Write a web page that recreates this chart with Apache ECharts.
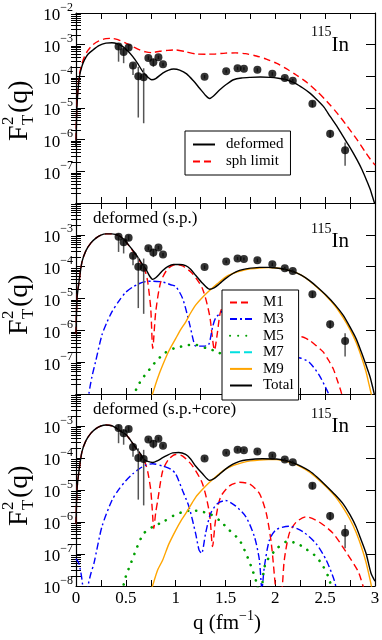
<!DOCTYPE html>
<html>
<head>
<meta charset="utf-8">
<script src="https://cdn.jsdelivr.net/npm/echarts@6/dist/echarts.min.js"></script>
<style>
html, body { margin: 0; padding: 0; background: #fff; }
#chart { width: 382px; height: 640px; }
</style>
</head>
<body>
<div id="chart"></div>
<script>
// experimental points (same in all three panels)
const expQ = [0.427, 0.478, 0.528, 0.572, 0.625, 0.679, 0.726, 0.776, 0.827, 0.873, 1.29, 1.507, 1.621, 1.685, 1.82, 1.97, 2.095, 2.175, 2.372, 2.55, 2.70]
const expF = [8.7e-4, 5.9e-4, 8.1e-4, 2.2e-4, 1.0e-4, 9.3e-5, 3.8e-4, 2.8e-4, 4.0e-4, 2.4e-4, 9.7e-5, 1.45e-4, 1.8e-4, 1.74e-4, 1.6e-4, 1.2e-4, 8.9e-5, 7.3e-5, 1.35e-5, 1.55e-6, 4.6e-7]
const expLow = [2.9e-4, 2.6e-4, 6.6e-4, 1.1e-4, 5.0e-6, 3.3e-6, 3.3e-4, 2.0e-4, 3.5e-4, 2.1e-4, 8.5e-5, 1.3e-4, 1.6e-4, 1.55e-4, 1.4e-4, 1.05e-4, 7.8e-5, 6.4e-5, 1.05e-5, 1.12e-6, 1.5e-7]
const expHigh = [1.1e-3, 7.9e-4, 9.8e-4, 2.6e-4, 2.0e-4, 1.8e-4, 4.3e-4, 3.6e-4, 4.5e-4, 2.7e-4, 1.1e-4, 1.6e-4, 2.0e-4, 1.95e-4, 1.8e-4, 1.35e-4, 1.0e-4, 8.2e-5, 1.66e-5, 2.0e-6, 8.1e-7]

// top panel
const deformedTop = [[0, 6.3e-7], [0.008, 8.7e-6], [0.02, 3.5e-5], [0.035, 1.0e-4], [0.06, 2.1e-4], [0.085, 3.3e-4], [0.12, 5.0e-4], [0.17, 6.8e-4], [0.23, 9.3e-4], [0.3, 1.12e-3], [0.36, 1.15e-3], [0.42, 1.05e-3], [0.47, 8.7e-4], [0.52, 6.3e-4], [0.57, 4.2e-4], [0.62, 2.5e-4], [0.67, 1.41e-4], [0.72, 9.5e-5], [0.76, 7.8e-5], [0.8, 8.5e-5], [0.87, 1.26e-4], [0.93, 1.58e-4], [0.98, 1.7e-4], [1.04, 1.58e-4], [1.11, 1.2e-4], [1.18, 7.1e-5], [1.24, 4.2e-5], [1.3, 2.5e-5], [1.34, 2.0e-5], [1.38, 2.4e-5], [1.44, 3.7e-5], [1.51, 5.6e-5], [1.58, 7.8e-5], [1.66, 8.9e-5], [1.75, 9.3e-5], [1.85, 9.5e-5], [1.95, 9.3e-5], [2.03, 8.7e-5], [2.11, 7.8e-5], [2.2, 6.0e-5], [2.28, 4.2e-5], [2.35, 2.9e-5], [2.42, 1.8e-5], [2.49, 1.05e-5], [2.55, 5.4e-6], [2.62, 2.6e-6], [2.68, 1.26e-6], [2.75, 5.6e-7], [2.82, 2.3e-7], [2.87, 1.12e-7], [2.92, 4.8e-8], [2.95, 2.8e-8], [2.98, 1.41e-8], [3.0, 8.9e-9]]
const sphTop = [[0, 1.0e-6], [0.008, 1.12e-5], [0.02, 4.5e-5], [0.035, 1.17e-4], [0.06, 2.5e-4], [0.085, 4.2e-4], [0.12, 6.6e-4], [0.17, 1.0e-3], [0.23, 1.32e-3], [0.3, 1.55e-3], [0.35, 1.58e-3], [0.42, 1.45e-3], [0.5, 1.12e-3], [0.57, 8.7e-4], [0.64, 6.8e-4], [0.7, 5.9e-4], [0.76, 5.6e-4], [0.84, 6.2e-4], [0.92, 6.6e-4], [1.0, 6.8e-4], [1.1, 6.0e-4], [1.2, 5.1e-4], [1.3, 5.0e-4], [1.4, 5.1e-4], [1.5, 5.4e-4], [1.6, 5.5e-4], [1.7, 5.2e-4], [1.81, 4.4e-4], [1.91, 3.5e-4], [2.01, 2.6e-4], [2.11, 1.74e-4], [2.21, 1.1e-4], [2.32, 6.3e-5], [2.42, 3.3e-5], [2.52, 1.58e-5], [2.62, 6.9e-6], [2.72, 2.7e-6], [2.82, 1.0e-6], [2.9, 4.2e-7], [2.95, 2.5e-7], [3.0, 1.58e-7]]

// middle panel, deformed (s.p.)
const m1Mid = [[0, 7.9e-7], [0.01, 1.0e-5], [0.03, 3.3e-5], [0.06, 1.41e-4], [0.1, 3.2e-4], [0.15, 5.6e-4], [0.2, 7.9e-4], [0.25, 9.8e-4], [0.3, 1.07e-3], [0.36, 1.07e-3], [0.43, 9.5e-4], [0.48, 7.2e-4], [0.53, 4.6e-4], [0.58, 2.8e-4], [0.63, 1.66e-4], [0.666, 1.1e-4], [0.7, 6.3e-5], [0.72, 3.3e-5], [0.75, 4.8e-6], [0.77, 2.7e-7], [0.8, 3.8e-6], [0.85, 3.3e-5], [0.92, 8.5e-5], [1.0, 1.17e-4], [1.07, 1.05e-4], [1.17, 6.0e-5], [1.27, 2.0e-5], [1.34, 3.0e-6], [1.39, 2.4e-7], [1.42, 8.9e-7], [1.45, 3.8e-6], [1.52, 1.0e-5], [1.62, 1.41e-5], [1.72, 1.12e-5], [1.82, 5.0e-6], [1.92, 1.0e-6], [1.98, 1.26e-7], [2.03, 1e-9], [2.08, 6.3e-8], [2.13, 3.2e-7], [2.2, 6.0e-7], [2.26, 6.3e-7], [2.34, 4.9e-7], [2.41, 3.3e-7], [2.48, 2.1e-7], [2.53, 1.2e-7], [2.58, 6.3e-8], [2.62, 2.8e-8], [2.66, 1.17e-8], [2.69, 5e-9]]
const m3Mid = [[0.12, 5e-9], [0.13, 1.05e-8], [0.16, 3.5e-8], [0.196, 1.02e-7], [0.26, 7.1e-7], [0.31, 1.78e-6], [0.36, 3.8e-6], [0.43, 8.3e-6], [0.5, 1.58e-5], [0.57, 2.3e-5], [0.63, 2.9e-5], [0.7, 3.4e-5], [0.77, 3.5e-5], [0.84, 3.4e-5], [0.9, 3.1e-5], [0.95, 2.7e-5], [1.0, 2.4e-5], [1.07, 1.0e-5], [1.135, 1.82e-6], [1.18, 4.5e-7], [1.2, 3.2e-7], [1.27, 3.2e-7], [1.33, 3.5e-7], [1.37, 1.26e-6], [1.4, 2.4e-6], [1.47, 4.0e-6], [1.55, 5.0e-6], [1.65, 3.5e-6], [1.75, 1.26e-6], [1.83, 2.0e-7], [1.88, 3.2e-9], [1.93, 5.0e-8], [2.02, 1.12e-7], [2.12, 1.5e-7], [2.25, 1.35e-7], [2.34, 1.0e-7], [2.44, 3.9e-8], [2.51, 1.48e-8], [2.55, 7.9e-9]]
const m5Mid = [[0.57, 7.9e-9], [0.62, 1.78e-8], [0.67, 3.2e-8], [0.72, 5.0e-8], [0.77, 8.1e-8], [0.83, 1.29e-7], [0.88, 1.86e-7], [0.98, 2.7e-7], [1.04, 3.0e-7], [1.1, 3.4e-7], [1.2, 3.5e-7], [1.3, 2.8e-7], [1.42, 2.1e-7], [1.5, 1.41e-7], [1.6, 5.0e-8], [1.68, 6.3e-9]]
const m7Mid = []
const m9Mid = [[0.75, 6.3e-9], [0.77, 1.05e-8], [0.82, 3.2e-8], [0.87, 8.1e-8], [0.93, 2.2e-7], [1.0, 5.5e-7], [1.05, 1.05e-6], [1.1, 1.82e-6], [1.15, 3.5e-6], [1.2, 6.2e-6], [1.27, 1.1e-5], [1.34, 1.78e-5], [1.42, 2.95e-5], [1.5, 4.7e-5], [1.58, 6.2e-5], [1.67, 7.6e-5], [1.75, 8.5e-5], [1.84, 9.1e-5], [1.93, 9.3e-5], [2.01, 9.1e-5], [2.09, 8.3e-5], [2.175, 7.1e-5], [2.26, 5.4e-5], [2.34, 3.6e-5], [2.42, 2.2e-5], [2.51, 1.2e-5], [2.6, 5.8e-6], [2.68, 2.5e-6], [2.75, 1.05e-6], [2.81, 4.2e-7], [2.86, 1.58e-7], [2.91, 5.0e-8], [2.94, 2.0e-8], [2.97, 7.9e-9]]
const totalMid = [[0, 7.9e-7], [0.01, 1.0e-5], [0.03, 3.3e-5], [0.06, 1.41e-4], [0.1, 3.2e-4], [0.15, 5.6e-4], [0.2, 7.9e-4], [0.25, 9.8e-4], [0.3, 1.07e-3], [0.36, 1.07e-3], [0.43, 9.5e-4], [0.48, 7.2e-4], [0.53, 4.7e-4], [0.58, 3.0e-4], [0.63, 1.78e-4], [0.67, 1.15e-4], [0.7, 8.5e-5], [0.74, 5.0e-5], [0.77, 4.0e-5], [0.8, 4.5e-5], [0.84, 6.0e-5], [0.87, 7.6e-5], [0.92, 1.0e-4], [0.98, 1.17e-4], [1.04, 1.17e-4], [1.1, 1.07e-4], [1.15, 8.3e-5], [1.2, 5.4e-5], [1.27, 3.0e-5], [1.34, 1.95e-5], [1.39, 2.2e-5], [1.44, 2.9e-5], [1.5, 4.2e-5], [1.57, 6.0e-5], [1.64, 7.6e-5], [1.705, 8.5e-5], [1.84, 9.5e-5], [1.93, 9.5e-5], [2.01, 9.1e-5], [2.09, 8.3e-5], [2.175, 7.1e-5], [2.26, 5.4e-5], [2.34, 3.7e-5], [2.42, 2.3e-5], [2.51, 1.26e-5], [2.6, 6.3e-6], [2.68, 3.0e-6], [2.75, 1.26e-6], [2.81, 5.5e-7], [2.86, 2.2e-7], [2.91, 8.1e-8], [2.95, 3.5e-8], [2.98, 1.48e-8], [3.0, 7.9e-9]]

// bottom panel, deformed (s.p.+core)
const m1Bot = [[0, 8.9e-7], [0.01, 1.0e-5], [0.03, 4.0e-5], [0.06, 1.58e-4], [0.1, 3.5e-4], [0.15, 6.0e-4], [0.2, 8.3e-4], [0.25, 1.0e-3], [0.3, 1.07e-3], [0.36, 1.02e-3], [0.4, 8.7e-4], [0.45, 6.8e-4], [0.5, 5.4e-4], [0.55, 3.5e-4], [0.6, 2.0e-4], [0.65, 1.26e-4], [0.666, 1.02e-4], [0.7, 6.3e-5], [0.725, 3.1e-5], [0.75, 1.0e-5], [0.765, 2.5e-6], [0.78, 6.2e-7], [0.8, 2.0e-6], [0.82, 4.7e-6], [0.87, 4.0e-5], [0.93, 9.1e-5], [1.0, 1.29e-4], [1.07, 1.15e-4], [1.17, 5.6e-5], [1.27, 1.55e-5], [1.34, 1.82e-6], [1.37, 1.7e-7], [1.4, 1.12e-6], [1.45, 6.0e-6], [1.54, 1.35e-5], [1.64, 1.74e-5], [1.74, 1.55e-5], [1.84, 7.8e-6], [1.91, 1.82e-6], [1.96, 2.1e-7], [2.0, 1.0e-8], [2.03, 1e-9], [2.07, 1.0e-8], [2.09, 6.5e-8], [2.14, 4.4e-7], [2.21, 1.0e-6], [2.31, 1.45e-6], [2.44, 1.0e-6], [2.58, 4.4e-7], [2.71, 1.15e-7], [2.83, 2.9e-8], [2.88, 1.0e-8], [2.92, 4e-9]]
const m3Bot = [[0, 7.1e-8], [0.03, 5.0e-8], [0.06, 1.58e-8], [0.09, 2.5e-9], [0.12, 1.0e-8], [0.15, 2.5e-8], [0.18, 5.1e-8], [0.26, 7.1e-7], [0.36, 4.7e-6], [0.43, 1.05e-5], [0.5, 1.95e-5], [0.57, 3.2e-5], [0.63, 4.5e-5], [0.7, 6.0e-5], [0.77, 6.6e-5], [0.87, 5.6e-5], [0.95, 4.5e-5], [1.0, 3.2e-5], [1.07, 9.5e-6], [1.135, 2.9e-6], [1.2, 4.4e-7], [1.235, 1.32e-7], [1.26, 1.05e-7], [1.3, 4.4e-7], [1.35, 1.82e-6], [1.42, 3.8e-6], [1.5, 4.7e-6], [1.6, 3.2e-6], [1.705, 1.45e-6], [1.79, 3.5e-7], [1.84, 6.5e-8], [1.865, 7.9e-9], [1.89, 4.0e-8], [1.94, 2.7e-7], [2.01, 5.8e-7], [2.14, 7.4e-7], [2.28, 4.9e-7], [2.41, 2.1e-7], [2.51, 6.5e-8], [2.59, 1.55e-8], [2.62, 6.3e-9]]
const m5Bot = [[0.46, 6.3e-9], [0.5, 2.0e-8], [0.55, 5.1e-8], [0.615, 1.7e-7], [0.68, 4.4e-7], [0.77, 7.1e-7], [0.87, 1.0e-6], [0.98, 1.58e-6], [1.08, 2.1e-6], [1.17, 2.3e-6], [1.26, 2.1e-6], [1.34, 1.82e-6], [1.44, 1.12e-6], [1.54, 5.5e-7], [1.64, 2.7e-7], [1.705, 1.05e-7], [1.77, 3.2e-8], [1.82, 1.0e-8], [1.85, 2.5e-9], [1.88, 2.5e-8], [1.91, 5.8e-8], [2.01, 1.41e-7], [2.11, 2.4e-7], [2.21, 2.2e-7], [2.31, 1.41e-7], [2.41, 8.3e-8], [2.48, 4.1e-8], [2.53, 2.0e-8], [2.57, 7.9e-9]]
const m7Bot = []
const m9Bot = [[0.75, 6.3e-9], [0.77, 1.05e-8], [0.82, 3.2e-8], [0.87, 6.5e-8], [0.93, 2.0e-7], [1.0, 5.5e-7], [1.05, 1.05e-6], [1.1, 1.82e-6], [1.15, 3.3e-6], [1.2, 5.9e-6], [1.27, 1.05e-5], [1.34, 1.74e-5], [1.42, 2.9e-5], [1.5, 4.5e-5], [1.58, 5.9e-5], [1.67, 7.2e-5], [1.75, 8.1e-5], [1.84, 8.7e-5], [1.93, 8.9e-5], [2.01, 8.9e-5], [2.09, 8.1e-5], [2.175, 6.9e-5], [2.26, 5.2e-5], [2.34, 3.7e-5], [2.42, 2.3e-5], [2.51, 1.26e-5], [2.6, 6.3e-6], [2.68, 2.8e-6], [2.75, 1.2e-6], [2.81, 4.8e-7], [2.86, 1.8e-7], [2.91, 5.5e-8], [2.95, 1.6e-8], [2.97, 7.9e-9]]
const totalBot = [[0, 8.9e-7], [0.01, 1.0e-5], [0.03, 4.0e-5], [0.06, 1.58e-4], [0.1, 3.5e-4], [0.15, 6.0e-4], [0.2, 8.3e-4], [0.25, 1.0e-3], [0.3, 1.07e-3], [0.36, 1.02e-3], [0.4, 8.7e-4], [0.45, 6.8e-4], [0.5, 5.4e-4], [0.55, 3.5e-4], [0.6, 2.1e-4], [0.65, 1.32e-4], [0.68, 9.1e-5], [0.72, 7.8e-5], [0.77, 7.2e-5], [0.82, 8.3e-5], [0.87, 1.02e-4], [0.97, 1.45e-4], [1.03, 1.48e-4], [1.1, 1.29e-4], [1.15, 9.3e-5], [1.2, 5.6e-5], [1.27, 3.2e-5], [1.34, 2.0e-5], [1.39, 2.3e-5], [1.44, 3.1e-5], [1.5, 4.5e-5], [1.57, 6.3e-5], [1.64, 7.8e-5], [1.705, 8.7e-5], [1.87, 9.5e-5], [2.01, 9.3e-5], [2.09, 8.5e-5], [2.175, 7.2e-5], [2.26, 5.5e-5], [2.34, 4.0e-5], [2.42, 2.5e-5], [2.51, 1.35e-5], [2.6, 7.1e-6], [2.68, 3.7e-6], [2.75, 1.66e-6], [2.81, 7.1e-7], [2.86, 2.8e-7], [2.91, 1.05e-7], [2.96, 2.5e-8], [3.0, 1.41e-8]]

// tick labels
const xTickLabels = ['0', '0.5', '1', '1.5', '2', '2.5', '3']
const yExpShown = [[-7, -6, -5, -4, -3, -2], [-7, -6, -5, -4, -3], [-8, -7, -6, -5, -4, -3]]

const FONT = 'Liberation Serif'
const tops = [13, 203, 394]
const heights = [190, 191, 192]

// minor ticks of the log axes, in decades
const minorLogs = []
for (let n = -8; n < -2; n++) {
  for (let k = 2; k < 10; k++) minorLogs.push(n + Math.log10(k))
}

const black = { color: '#000', width: 1.2 }
const grids = []
const xAxes = []
const yAxes = []
for (let i = 0; i < 3; i++) {
  grids.push({ left: 76, right: 7, top: tops[i], height: heights[i], outerBoundsMode: 'none' })
  for (const pos of ['bottom', 'top']) {
    xAxes.push({
      type: 'value', gridIndex: i, position: pos, min: 0, max: 3, interval: 0.5,
      axisLine: { onZero: false, lineStyle: black },
      axisTick: { inside: true, length: 6, lineStyle: { color: '#000' } },
      minorTick: { show: true, splitNumber: 2, length: 6, lineStyle: { color: '#000' } },
      splitLine: { show: false },
      axisLabel: {
        show: i === 2 && pos === 'bottom', margin: 4,
        fontFamily: FONT, fontSize: 17, color: '#000',
        formatter: v => xTickLabels[Math.round(v * 2)]
      }
    })
  }
  for (const pos of ['left', 'right']) {
    yAxes.push({
      type: 'log', logBase: 10, gridIndex: i, position: pos, min: 1e-8, max: 1e-2, splitNumber: 6,
      axisLine: { onZero: false, lineStyle: black },
      axisTick: { inside: true, length: 9, lineStyle: { color: '#000' } },
      splitLine: { show: false },
      axisLabel: {
        show: pos === 'left', margin: 3,
        formatter: v => {
          const e = Math.round(Math.log10(v))
          return yExpShown[i].indexOf(e) >= 0 ? '{b|10}{s|\u2212' + (-e) + '}' : ''
        },
        rich: {
          b: { fontFamily: FONT, fontSize: 17, color: '#000', verticalAlign: 'bottom' },
          s: { fontFamily: FONT, fontSize: 12, color: '#000', verticalAlign: 'bottom', padding: [0, 0, 11, 0] }
        }
      }
    })
  }
  for (const pos of ['left', 'right']) {
    yAxes.push({
      type: 'value', gridIndex: i, position: pos, min: -8, max: -2, interval: 1,
      axisLine: { show: false },
      axisLabel: { show: false },
      splitLine: { show: false },
      axisTick: { inside: true, length: 5, customValues: minorLogs, lineStyle: { color: '#000' } }
    })
  }
}

function curve (name, data, grid, color, type, width, z) {
  return {
    type: 'line', name, data, xAxisIndex: 2 * grid, yAxisIndex: 4 * grid,
    symbol: 'none', smooth: 0.25, clip: true, silent: true, z: z || 2,
    lineStyle: { color, width: width || 1.4, type },
    itemStyle: { color }
  }
}
function dotted (name, data, grid) {
  const s = curve(name, data, grid, '#00a000', [0.1, 8], 2.6)
  s.lineStyle.cap = 'round'
  return s
}
const dashDot = [7, 3, 2, 3]
const dashed = [7, 4]

const expRows = expQ.map((q, j) => [q, expF[j], expLow[j], expHigh[j]])
function errorBars (grid) {
  return {
    type: 'custom', data: expRows, xAxisIndex: 2 * grid, yAxisIndex: 4 * grid, silent: true, z: 5,
    encode: { x: 0, y: [2, 3] },
    renderItem: (params, api) => {
      const p1 = api.coord([api.value(0), api.value(2)])
      const p2 = api.coord([api.value(0), api.value(3)])
      return { type: 'line', shape: { x1: p1[0], y1: p1[1], x2: p2[0], y2: p2[1] }, style: { stroke: '#555', lineWidth: 1.5 } }
    }
  }
}
function points (grid) {
  return {
    type: 'scatter', data: expRows.map(r => [r[0], r[1]]), xAxisIndex: 2 * grid, yAxisIndex: 4 * grid,
    symbol: 'circle', symbolSize: 8, itemStyle: { color: '#000' }, silent: true, z: 6
  }
}

const series = [
  curve('sph limit', sphTop, 0, '#ff0000', dashed, 1.4),
  curve('deformed', deformedTop, 0, '#000', 'solid', 1.4, 3),
  errorBars(0), points(0),

  curve('M1', m1Mid, 1, '#ff0000', dashed),
  curve('M3', m3Mid, 1, '#0000ff', dashDot),
  dotted('M5', m5Mid, 1),
  curve('M7', m7Mid, 1, '#00e0e0', [10, 4]),
  curve('M9', m9Mid, 1, '#ffa500', 'solid'),
  curve('Total', totalMid, 1, '#000', 'solid', 1.4, 3),
  errorBars(1), points(1),

  curve('M1', m1Bot, 2, '#ff0000', dashed),
  curve('M3', m3Bot, 2, '#0000ff', dashDot),
  dotted('M5', m5Bot, 2),
  curve('M7', m7Bot, 2, '#00e0e0', [10, 4]),
  curve('M9', m9Bot, 2, '#ffa500', 'solid'),
  curve('Total', totalBot, 2, '#000', 'solid', 1.4, 3),
  errorBars(2), points(2)
]

const legendBase = {
  orient: 'vertical', selectedMode: false, itemWidth: 22, itemHeight: 14,
  backgroundColor: '#fff', borderColor: '#000', borderWidth: 1, borderRadius: 0,
  itemStyle: { opacity: 0 },
  textStyle: { fontFamily: FONT, fontSize: 15, lineHeight: 14, color: '#000', padding: [0, 0, 0, 6] }
}
const legends = [
  Object.assign({}, legendBase, { data: ['deformed', 'sph limit'], left: 185, top: 131, itemGap: 2, padding: [6, 7, 6, 7] }),
  Object.assign({}, legendBase, { data: ['M1', 'M3', 'M5', 'M7', 'M9', 'Total'], left: 222, top: 290, itemGap: 1.6, padding: [5, 5, 7, 7] })
]

function isotope (y) {
  return {
    type: 'text', x: 311, y, z: 10,
    style: {
      text: '{s|115}{b|In}', verticalAlign: 'middle',
      rich: {
        s: { fontFamily: FONT, fontSize: 14, fill: '#000', verticalAlign: 'bottom', padding: [0, 0, 16, 0] },
        b: { fontFamily: FONT, fontSize: 21, fill: '#000', verticalAlign: 'bottom' }
      }
    }
  }
}
function yName (y) {
  const st = (text, size) => ({ text, fontFamily: FONT, fontSize: size, fill: '#000', verticalAlign: 'middle' })
  return {
    type: 'group', x: 20, y, rotation: Math.PI / 2,
    children: [
      { type: 'text', x: -33, y: 0, style: st('F', 28) },
      { type: 'text', x: -17, y: 9, style: st('T', 17) },
      { type: 'text', x: -17, y: -11, style: st('2', 17) },
      { type: 'text', x: -5, y: 0, style: st('(q)', 28) }
    ]
  }
}
const graphics = [
  isotope(40.5), isotope(237.2), isotope(422.2),
  { type: 'text', x: 93, y: 219, style: { text: 'deformed (s.p.)', fontFamily: FONT, fontSize: 17, fill: '#000', verticalAlign: 'middle' } },
  { type: 'text', x: 93, y: 410, style: { text: 'deformed (s.p.+core)', fontFamily: FONT, fontSize: 17, fill: '#000', verticalAlign: 'middle' } },
  yName(108), yName(302), yName(493),
  {
    type: 'text', x: 193, y: 621.5,
    style: {
      text: '{a|q (fm}{s|\u22121}{a|)}', verticalAlign: 'middle',
      rich: {
        a: { fontFamily: FONT, fontSize: 21, fill: '#000', verticalAlign: 'bottom' },
        s: { fontFamily: FONT, fontSize: 14, fill: '#000', verticalAlign: 'bottom', padding: [0, 0, 10, 0] }
      }
    }
  }
]

const chart = echarts.init(document.getElementById('chart'))
chart.setOption({
  animation: false,
  backgroundColor: '#fff',
  grid: grids,
  xAxis: xAxes,
  yAxis: yAxes,
  legend: legends,
  series,
  graphic: graphics
})
</script>
</body>
</html>
